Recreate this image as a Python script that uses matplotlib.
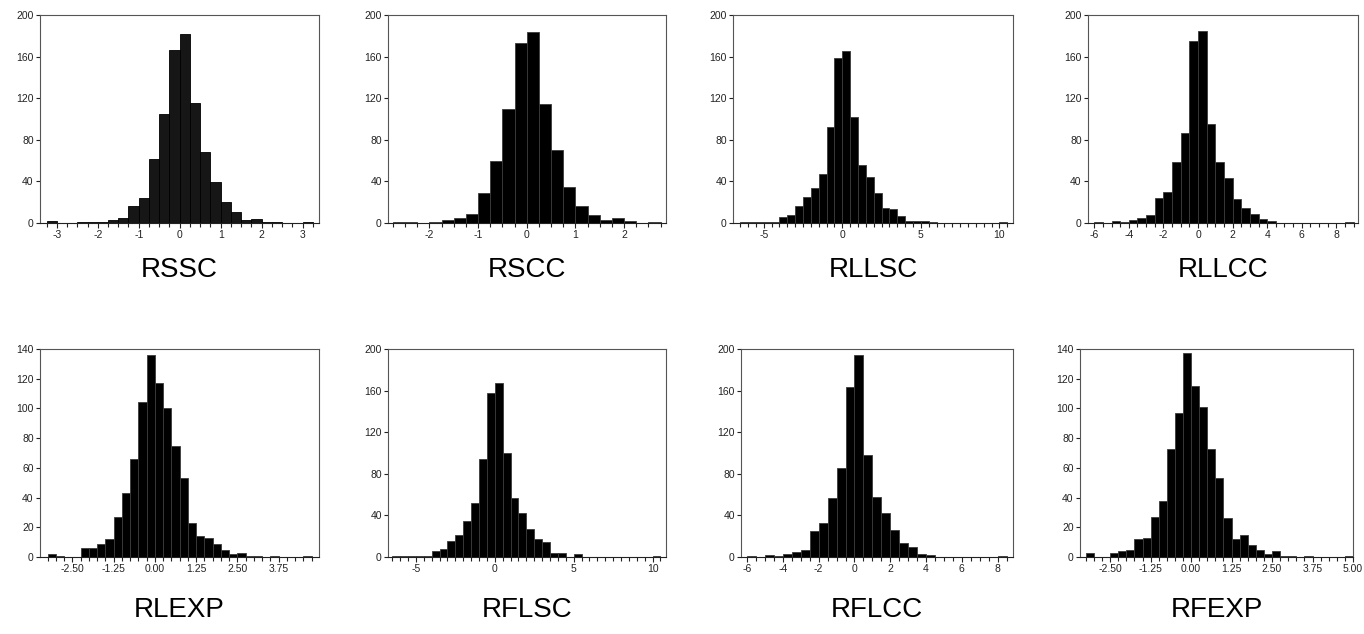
import numpy as np
import matplotlib
matplotlib.use("Agg")
import matplotlib.pyplot as plt

plt.rcParams["font.family"] = ["Liberation Sans", "DejaVu Sans"]

# names of the series
names = ["RSSC", "RSCC", "RLLSC", "RLLCC", "RLEXP", "RFLSC", "RFLCC", "RFEXP"]

# left edge of first bin, bin width
bin_start = [-3.25, -2.75, -6.5, -6.0, -3.25, -6.5, -6.0, -3.25]
bin_width = [0.25, 0.25, 0.5, 0.5, 0.25, 0.5, 0.5, 0.25]

# counts per bin
rssc = [2, 0, 0, 1, 1, 1, 3, 5, 16, 24, 62, 105, 166, 182, 115, 68, 39, 20, 11, 3, 4, 1, 1, 0, 0, 1]
rscc = [1, 1, 0, 1, 3, 5, 9, 29, 60, 110, 173, 184, 114, 70, 35, 16, 8, 3, 5, 2, 0, 1]
rllsc = [1, 1, 1, 1, 1, 6, 8, 16, 25, 34, 47, 92, 159, 165, 102, 56, 44, 29, 14, 13, 7, 2, 2, 2, 1,
         0, 0, 0, 0, 0, 0, 0, 0, 1]
rllcc = [1, 0, 2, 1, 3, 5, 8, 24, 30, 59, 87, 175, 185, 95, 59, 43, 23, 14, 9, 4, 2,
         0, 0, 0, 0, 0, 0, 0, 0, 1]
rlexp = [2, 1, 0, 0, 6, 6, 9, 12, 27, 43, 66, 104, 136, 117, 100, 75, 53, 23, 14, 13, 9, 5, 2, 3, 1, 1,
         0, 1, 0, 0, 0, 1]
rflsc = [1, 1, 1, 1, 1, 6, 8, 15, 21, 35, 52, 94, 158, 167, 100, 57, 42, 27, 17, 14, 4, 4, 0, 3,
         0, 0, 0, 0, 0, 0, 0, 0, 0, 1]
rflcc = [1, 0, 2, 1, 3, 5, 7, 25, 33, 57, 86, 163, 194, 98, 58, 42, 26, 13, 10, 3, 2,
         0, 0, 0, 0, 0, 0, 0, 1]
rfexp = [3, 0, 0, 3, 4, 5, 12, 13, 27, 38, 73, 97, 137, 115, 101, 73, 53, 26, 12, 15, 8, 5, 2, 4, 1, 1,
         0, 1, 0, 0, 0, 0, 1]
counts = [rssc, rscc, rllsc, rllcc, rlexp, rflsc, rflcc, rfexp]

# axis ranges and ticks
xlims = [(-3.41, 3.40), (-2.85, 2.86), (-6.95, 10.86), (-6.36, 9.25),
         (-3.48, 4.97), (-6.77, 10.85), (-6.34, 8.86), (-3.43, 4.97)]
xticks = [[-3, -2, -1, 0, 1, 2, 3], [-2, -1, 0, 1, 2], [-5, 0, 5, 10], [-6, -4, -2, 0, 2, 4, 6, 8],
          [-2.5, -1.25, 0, 1.25, 2.5, 3.75], [-5, 0, 5, 10], [-6, -4, -2, 0, 2, 4, 6, 8],
          [-2.5, -1.25, 0, 1.25, 2.5, 3.75, 5.0]]
xfmt = ["%d", "%d", "%d", "%d", "%.2f", "%d", "%d", "%.2f"]
ymax = [200, 200, 200, 200, 140, 200, 200, 140]
ystep = [40, 40, 40, 40, 20, 40, 40, 20]

# axes boxes in pixels (left, right); rows share top/bottom
W, H = 1364, 634
px_lr = [(40, 319), (388, 666), (733, 1013), (1088, 1358),
         (40, 319), (388, 666), (741, 1013), (1080, 1353)]
row_tb = [(15, 223), (349, 557)]

fig = plt.figure(figsize=(W / 100, H / 100), dpi=100)

for i in range(8):
    l, r = px_lr[i]
    t, b = row_tb[i // 4]
    ax = fig.add_axes([l / W, 1 - b / H, (r - l) / W, (b - t) / H])
    c = counts[i]
    edges = bin_start[i] + bin_width[i] * np.arange(len(c) + 1)
    fc = "#161616" if i == 0 else "black"
    ec = "black" if i == 0 else "#3a3a3a"
    ax.bar(edges[:-1], c, width=bin_width[i], align="edge", color=fc, edgecolor=ec, linewidth=0.6)
    ax.set_xlim(xlims[i])
    ax.set_ylim(0, ymax[i])
    ax.set_yticks(np.arange(0, ymax[i] + 1, ystep[i]))
    ax.set_xticks(xticks[i])
    ax.set_xticklabels([xfmt[i] % v for v in xticks[i]])
    lo, hi = xlims[i]
    mt = np.arange(np.ceil(lo / bin_width[i]), np.floor(hi / bin_width[i]) + 1) * bin_width[i]
    ax.set_xticks(mt, minor=True)
    ax.tick_params(axis="both", which="both", direction="out", labelsize=7.5, colors="#222222",
                   width=0.8, pad=1.5)
    ax.tick_params(axis="x", which="major", length=3.5)
    ax.tick_params(axis="x", which="minor", length=3)
    ax.tick_params(axis="y", length=3)
    for s in ax.spines.values():
        s.set_color("#555555")
        s.set_linewidth(0.8)
    ax.spines["bottom"].set_color("#222222")
    yc = 270 if i < 4 else 610
    fig.text((l + r) / 2 / W, 1 - yc / H, names[i], ha="center", va="center", fontsize=20)

plt.savefig("out.png", dpi=100)
plt.close()
